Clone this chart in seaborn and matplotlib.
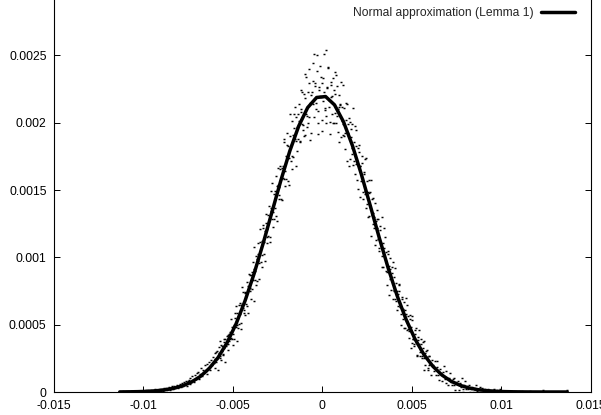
import numpy as np
import pandas as pd
import matplotlib
matplotlib.use("Agg")
import matplotlib.pyplot as plt
import seaborn as sns

# Empirical frequencies, in units of 1e-6, one value per bin of width 0.00005
# bins run from -0.0113 to 0.0137
x_first, x_last = -0.0113, 0.0137
left_tail = [2, 0, 3, 1, 5, 2, 0, 4, 1, 6, 2, 3, 0, 5, 8, 2, 4, 1, 7, 3, 9, 2, 5, 11, 4, 6, 3,
             8, 2, 12, 6, 4, 14, 7, 3, 16, 9, 5, 13, 20, 7, 11, 18, 6, 15, 24, 10,
             19, 8, 27, 14, 22, 31, 12, 25, 36, 18, 29, 41, 21, 33, 47, 26, 38, 52, 30, 44,
             58, 35, 49, 66, 41, 72, 55, 84, 47, 79, 92, 63, 101, 75, 118, 88, 71, 126, 95, 139]
left_flank = [108, 152, 97, 134, 178, 121, 165, 142, 198, 158, 131, 207, 176, 224, 163, 241, 199, 262, 218, 247,
              286, 221, 304, 263, 331, 249, 352, 301, 278, 369, 327, 392, 341, 418, 359, 381, 446, 403, 482, 431,
              482, 392, 547, 639, 494, 475, 645, 578, 469, 647, 776, 626, 588, 740, 653, 819, 586, 781, 773, 870,
              694, 894, 829, 1080, 829, 791, 984, 1108, 976, 837, 1115, 1070, 1015, 1217, 1027, 1196, 1321, 1149, 1104, 1316,
              1273, 1117, 1370, 1554, 1338, 1282, 1496, 1370, 1603, 1267, 1540, 1524, 1657, 1430, 1663, 1586, 1878, 1581, 1533, 1755]
peak = [1923, 1736, 1539, 1904, 1833, 1749, 2011, 1742, 1957, 2113, 1866, 1792, 2063, 2010, 1853, 2099, 2241, 1991, 1947, 2214,
        2363, 2063, 1971, 2229, 2044, 2396, 1868, 2202, 2150, 2308, 2507, 2269, 2144, 2499, 2087, 1999, 2262, 2420, 2187, 1940,
        2330, 2225, 2106, 2537, 2048, 2265, 2417, 2113, 2003, 2282, 2197, 1994, 2245, 2379, 2070, 1995, 2270, 2102, 1856, 2142,
        1890, 2118, 1987, 2283, 1899, 1802, 2017, 2138, 1912, 1676, 2003, 1892, 1769, 1991, 1683, 1858, 1976, 1690, 1577, 1809]
right_flank = [1833, 1451, 1678, 1616, 1703, 1430, 1617, 1494, 1740, 1397, 1303, 1480, 1576, 1372, 1158, 1434, 1330, 1217, 1403, 1129,
               1283, 1354, 1134, 1068, 1232, 1107, 930, 1104, 1217, 990, 900, 1040, 890, 1047, 718, 910, 855, 928, 694, 853,
               752, 921, 677, 609, 730, 796, 651, 500, 692, 619, 539, 669, 477, 580, 648, 471, 400, 539, 482, 363,
               538, 397, 355, 464, 385, 273, 388, 464, 320, 265, 359, 265, 370, 161, 289, 258, 309, 162, 269, 204,
               209, 125, 238, 198, 155, 231, 124, 185, 227, 129, 91, 173, 143, 78, 152, 191, 94, 70, 153, 101]
right_tail = [51, 104, 140, 76, 52, 96, 55, 105, 12, 71, 58, 83, 18, 68, 40, 105, 23, 3, 51, 79,
              21, 47, 24, 51, 0, 33, 25, 39, 3, 32, 17, 54, 8, 0, 24, 40, 14, 0, 27, 16,
              6, 22, 2, 15, 24, 5, 0, 15, 10, 0, 12, 21, 3, 0, 15, 6, 0, 9, 22, 2,
              3, 0, 7, 1, 0, 5, 2, 9, 0, 3, 1, 6, 0, 2, 11, 0, 4, 1, 0, 5,
              0, 2, 0, 7, 1, 0, 0, 3, 0, 1, 0, 4, 0, 0, 2, 0, 0, 1, 0, 0,
              0, 0, 3, 0, 0, 0, 12, 0, 1, 0, 0, 0, 0, 2, 0, 0, 0, 0, 0, 0,
              0, 0, 0, 0, 1, 0, 0, 0, 0, 0, 0, 0, 0, 12]

# the in-between bins of the central part, -0.005975 to 0.005975
mid_first, mid_last = -0.005975, 0.005975
mid_left = [176, 295, 244, 163, 288, 377, 267, 237, 343, 279, 395, 226, 363, 355, 422, 309, 427, 390, 539, 393,
            349, 494, 587, 484, 376, 587, 551, 508, 662, 516, 644, 739, 607, 573, 736, 715, 636, 785, 877, 747,
            870, 762, 962, 676, 910, 897, 1013, 822, 1023, 959, 1211, 962, 925, 1118, 1243, 1112, 975, 1253, 1209, 1155,
            1379, 1153, 1347, 1490, 1284, 1228, 1472, 1436, 1310, 1533, 1667, 1460, 1434, 1677, 1580, 1423, 1676, 1858, 1641, 1583,
            1832, 1566, 1829, 1734, 2065, 1718, 1657, 1908, 2065, 1876, 1676, 2039, 1965, 1878, 2136, 1864, 2076, 2229, 1979, 1901,
            1908, 2181, 2336, 2049, 1995, 2291, 2145, 1920, 2228, 2444, 2139, 2042, 2295, 2105, 2382, 1918, 2246, 2197, 2342, 2018]
mid_right = [2291, 2161, 2511, 2093, 1999, 2256, 2408, 2170, 1918, 2302, 2191, 2067, 2332, 1998, 2210, 2356, 2047, 1932, 2206, 2116,
             2133, 2304, 2014, 1907, 2111, 1922, 2148, 1717, 1988, 1924, 2033, 1727, 1950, 1815, 2106, 1718, 1616, 1827, 1944, 1715,
             1505, 1783, 1681, 1568, 1756, 1483, 1630, 1727, 1474, 1370, 1567, 1483, 1310, 1486, 1572, 1318, 1244, 1440, 1297, 1093,
             1273, 1215, 1286, 1049, 1205, 1095, 1302, 1007, 925, 1073, 1152, 976, 793, 1026, 936, 837, 995, 761, 885, 966,
             760, 688, 812, 753, 636, 747, 801, 632, 581, 707, 612, 477, 610, 697, 525, 457, 565, 452, 574, 324,
             567, 393, 344, 430, 477, 374, 267, 405, 353, 296, 390, 254, 328, 377, 252, 202, 303, 263, 179, 270]

# Normal approximation (Lemma 1), read every 0.0005 from -0.0113 to 0.0137, units of 1e-6
normal_curve = [0.64, 1.29, 2.53, 4.82, 8.85, 15.8, 27.2, 45.4, 73.5, 115,
                175, 257, 367, 506, 677, 876, 1098, 1334, 1570, 1789,
                1975, 2112, 2187, 2194, 2132, 2007, 1830, 1616, 1382, 1145,
                919, 714, 538, 392, 277, 190, 126, 80.7, 50.2, 30.2,
                17.6, 9.9, 5.5, 2.9, 1.5, 0.74, 0.36, 0.17, 0.07, 0.03, 0.01]

x_ticks = [-0.015, -0.01, -0.005, 0, 0.005, 0.01, 0.015]
x_labels = ["-0.015", "-0.01", "-0.005", "0", "0.005", "0.01", "0.015"]
y_ticks = [0, 0.0005, 0.001, 0.0015, 0.002, 0.0025]
y_labels = ["0", "0.0005", "0.001", "0.0015", "0.002", "0.0025"]

freq = np.array(left_tail + left_flank + peak + right_flank + right_tail) * 1e-6
mid = np.array(mid_left + mid_right) * 1e-6
points = pd.concat([
    pd.DataFrame({"x": np.linspace(x_first, x_last, len(freq)), "y": freq}),
    pd.DataFrame({"x": np.linspace(mid_first, mid_last, len(mid)), "y": mid}),
])
curve = pd.DataFrame({"x": np.linspace(x_first, x_last, len(normal_curve)),
                      "y": np.array(normal_curve) * 1e-6})

sns.set_style("ticks")
plt.rcParams['font.family'] = ['Liberation Sans', 'DejaVu Sans']

fig = plt.figure(figsize=(6.01, 4.15), dpi=100)
ax = fig.add_axes([53.5 / 601, 23 / 415, 537 / 601, 404 / 415])

sns.scatterplot(data=points, x="x", y="y", marker="_", s=4, color="black",
                linewidth=1.05, ax=ax, legend=False, zorder=2)
sns.lineplot(data=curve, x="x", y="y", color="black", linewidth=2.5, ax=ax,
             label="Normal approximation (Lemma 1)", zorder=3)

ax.set_xlim(-0.015, 0.015)
ax.set_ylim(0, 0.003)
ax.set_xticks(x_ticks)
ax.set_xticklabels(x_labels)
ax.set_yticks(y_ticks)
ax.set_yticklabels(y_labels)
ax.set_xlabel("")
ax.set_ylabel("")

for side in ["left", "right", "top", "bottom"]:
    ax.spines[side].set_visible(True)
    ax.spines[side].set_linewidth(0.8)
    ax.spines[side].set_color("black")
ax.tick_params(direction="in", length=4.3, width=0.7, top=True, right=True,
               labelsize=8.7, colors="black")
ax.tick_params(axis="x", pad=6)
ax.tick_params(axis="y", pad=5)

ax.legend(loc="center right", bbox_to_anchor=(575 / 601, 1 - 13 / 415),
          bbox_transform=fig.transFigure, frameon=False, markerfirst=False,
          handlelength=2.8, handletextpad=0.6, borderpad=0, borderaxespad=0,
          fontsize=8.7)

fig.savefig("out.png", dpi=100)
